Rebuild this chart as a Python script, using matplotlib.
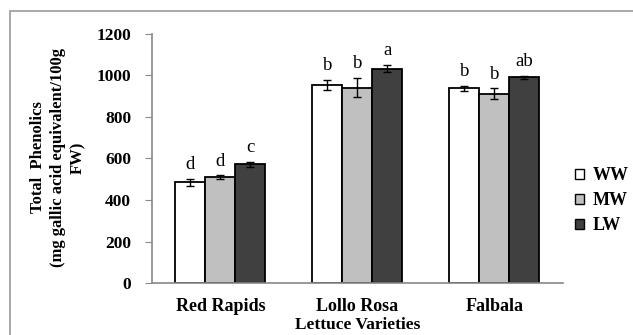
import numpy as np
import matplotlib.pyplot as plt
from matplotlib.patches import Rectangle

# ---data--- #
varieties = ['Red Rapids', 'Lollo Rosa', 'Falbala']
treatments = ['WW', 'MW', 'LW']
ww = [485, 954, 937]
mw = [510, 941, 912]
lw = [572, 1033, 990]
ww_err = [18, 25, 11]
mw_err = [8, 45, 25]
lw_err = [12, 19, 6]
ww_lbl = ['d', 'b', 'b']
mw_lbl = ['d', 'b', 'b']
lw_lbl = ['c', 'a', 'ab']

colors = ['white', '#c0c0c0', '#404040']

plt.rcParams['font.family'] = ['Liberation Serif', 'DejaVu Serif']

fig = plt.figure(figsize=(6.33, 3.35), dpi=100)
ax = fig.add_axes([0.240, 0.155, 0.649, 0.744])

# outer frame (top and left visible only)
fig.patches.append(Rectangle((10 / 633, -0.2), 1.2, 1 - 11 / 335 + 0.2,
                             transform=fig.transFigure, fill=False,
                             edgecolor='#999999', linewidth=1.2))

x = np.arange(len(varieties))
w = 0.219
series = [(ww, ww_err, ww_lbl), (mw, mw_err, mw_lbl), (lw, lw_err, lw_lbl)]
for i, (vals, errs, lbls) in enumerate(series):
    pos = x + (i - 1) * w
    ax.bar(pos, vals, w, color=colors[i], edgecolor='black', linewidth=1.3,
           label=treatments[i], zorder=2)
    ax.errorbar(pos, vals, yerr=errs, fmt='none', ecolor='black',
                elinewidth=1, capsize=3, capthick=1, zorder=3)
    for p, v, e, t in zip(pos, vals, errs, lbls):
        ax.text(p, v + e + 28, t, ha='center', va='bottom', fontsize=13.5)

ax.set_xlim(-0.5, 2.5)
ax.set_ylim(0, 1200)
ax.set_yticks(range(0, 1201, 200))
ax.set_xticks(x)
ax.set_xticklabels(varieties, fontsize=13, fontweight='bold')
for lab in ax.get_yticklabels():
    lab.set_fontsize(12.5)
    lab.set_fontweight('bold')
ax.tick_params(axis='x', length=0, pad=11)
ax.tick_params(axis='y', length=5, color='#888888', pad=10)
for s in ['top', 'right']:
    ax.spines[s].set_visible(False)
for s in ['left', 'bottom']:
    ax.spines[s].set_color('#888888')
    ax.spines[s].set_linewidth(1.2)

ax.set_xlabel('Lettuce Varieties', fontsize=12.5, fontweight='bold', labelpad=1)
ax.set_ylabel('Total  Phenolics\n(mg gallic acid equivalent/100g\nFW)',
              fontsize=12, fontweight='bold', linespacing=1.35)
ax.yaxis.set_label_coords(-0.16, 0.504)

leg = ax.legend(loc='center left', bbox_to_anchor=(0.99, 0.33), frameon=False,
                prop={'weight': 'bold', 'size': 13}, handlelength=0.5,
                handleheight=0.5, handletextpad=0.5, labelspacing=0.45)
for h in leg.legend_handles:
    h.set_linewidth(1)

fig.savefig('out.png', dpi=100)
